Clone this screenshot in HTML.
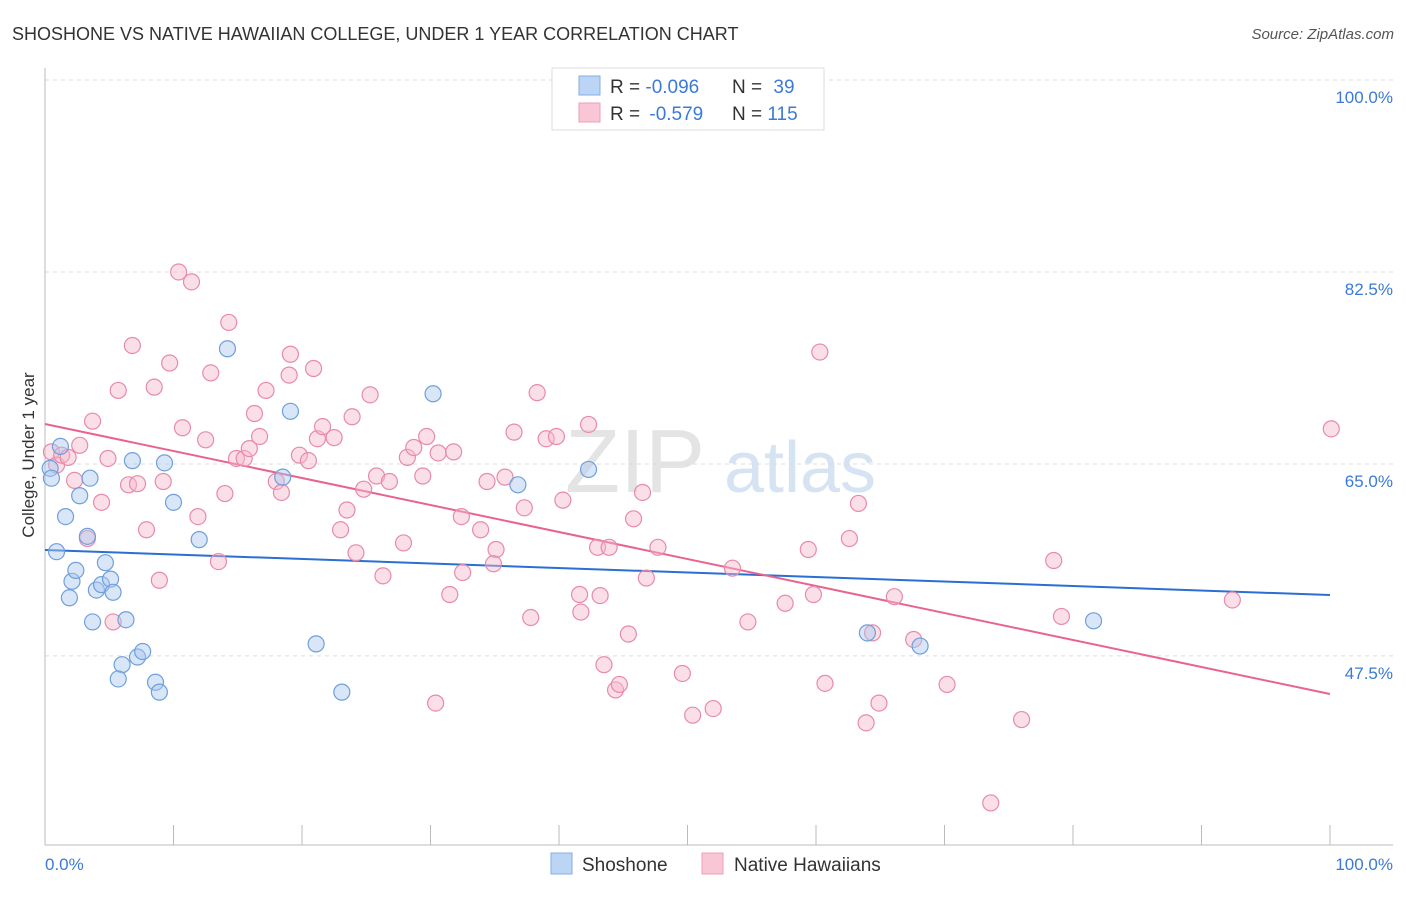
<!DOCTYPE html>
<html><head><meta charset="utf-8"><style>
body{margin:0;background:#fff;font-family:"Liberation Sans",sans-serif;}
svg text{font-family:"Liberation Sans",sans-serif;}
</style></head><body>
<svg id="chart" width="1406" height="892">
<text x="12" y="40" font-size="18" fill="#333">SHOSHONE VS NATIVE HAWAIIAN COLLEGE, UNDER 1 YEAR CORRELATION CHART</text>
<text x="1394" y="39" font-size="15" fill="#555" font-style="italic" text-anchor="end">Source: ZipAtlas.com</text>
<g><text x="635" y="492" font-size="90" fill="#e4e4e4" font-family="Liberation Serif" text-anchor="middle">ZIP</text><text x="800" y="492" font-size="72" fill="#d6e3f3" text-anchor="middle">atlas</text></g>
<g id="grid"></g>
<g id="axes"></g>
<g id="lines"></g>
<g id="pts"></g>
<text transform="translate(34,455) rotate(-90)" font-size="17" fill="#333" text-anchor="middle">College, Under 1 year</text>
<text x="45" y="870" font-size="17" fill="#3b7ad8">0.0%</text>
<text x="1393" y="870" font-size="17" fill="#3b7ad8" text-anchor="end">100.0%</text>
<g>
<rect x="552" y="68" width="272" height="62" fill="#fff" stroke="#ddd"/>
<rect x="579" y="76" width="21" height="19" fill="#bcd5f5" stroke="#80aee6"/>
<rect x="579" y="103" width="21" height="19" fill="#f9c6d5" stroke="#ee9fb8"/>
<text x="610" y="93" font-size="19" fill="#333">R = <tspan fill="#3b7ad8">-0.096</tspan></text>
<text x="732" y="93" font-size="19" fill="#333">N = <tspan fill="#3b7ad8" dx="6">39</tspan></text>
<text x="610" y="120" font-size="19" fill="#333">R = <tspan fill="#3b7ad8" dx="4">-0.579</tspan></text>
<text x="732" y="120" font-size="19" fill="#333">N = <tspan fill="#3b7ad8">115</tspan></text>
</g>
<g>
<rect x="551" y="853" width="21" height="21" fill="#bcd5f5" stroke="#80aee6"/>
<text x="582" y="871" font-size="19" fill="#333">Shoshone</text>
<rect x="702" y="853" width="21" height="21" fill="#f9c6d5" stroke="#ee9fb8"/>
<text x="734" y="871" font-size="19" fill="#333">Native Hawaiians</text>
</g>
</svg>
<script>
const yTicks=[100,82.5,65,47.5];
const yTickLabels=["100.0%","82.5%","65.0%","47.5%"];
const xTicks=[0,10,20,30,40,50,60,70,80,90,100];
const shoX=[0.4,0.5,1.2,0.9,1.6,2.1,2.4,1.9,2.7,3.5,3.3,3.7,4.0,4.4,4.7,5.1,5.3,6.3,6.8,9.3,10.0,12.0,6.0,5.7,7.2,7.6,8.6,8.9,14.2,19.1,18.5,21.1,23.1,30.2,36.8,42.3,64.0,68.1,81.6];
const shoY=[64.6,63.7,66.6,57.0,60.2,54.3,55.3,52.8,62.1,63.7,58.4,50.6,53.5,54.0,56.0,54.5,53.3,50.8,65.3,65.1,61.5,58.1,46.7,45.4,47.4,47.9,45.1,44.2,75.5,69.8,63.8,48.6,44.2,71.4,63.1,64.5,49.6,48.4,50.7];
const nhX=[0.5,0.9,1.3,1.8,2.7,3.7,2.3,3.3,4.4,4.9,5.3,5.7,6.5,7.2,6.8,7.9,8.5,8.9,9.2,9.7,10.4,11.4,10.7,12.5,12.9,11.9,14.0,13.5,14.3,14.9,15.5,15.9,16.3,16.7,17.2,18.0,18.4,19.0,19.1,19.8,20.5,20.9,21.2,21.6,22.5,23.0,23.5,23.9,24.2,24.8,25.3,25.8,26.3,26.8,27.9,28.2,28.7,29.7,29.4,30.6,31.8,30.4,31.5,32.4,32.5,33.9,34.4,35.1,34.9,35.8,36.5,37.3,37.8,38.3,39.0,39.8,40.3,41.6,41.7,42.3,43.0,43.2,43.9,43.5,44.4,44.7,45.8,45.4,46.8,46.5,47.7,49.6,50.4,52.0,53.5,54.7,57.6,59.4,59.8,60.3,60.7,62.6,63.3,63.9,64.4,64.9,66.1,67.6,70.2,73.6,76.0,78.5,79.1,92.4,100.1];
const nhY=[66.1,64.9,65.8,65.6,66.7,68.9,63.5,58.2,61.5,65.5,50.6,71.7,63.1,63.2,75.8,59.0,72.0,54.4,63.4,74.2,82.5,81.6,68.3,67.2,73.3,60.2,62.3,56.1,77.9,65.5,65.5,66.4,69.6,67.5,71.7,63.4,62.4,73.1,75.0,65.8,65.3,73.7,67.3,68.4,67.4,59.0,60.8,69.3,56.9,62.7,71.3,63.9,54.8,63.4,57.8,65.6,66.5,67.5,63.9,66.0,66.1,43.2,53.1,60.2,55.1,59.0,63.4,57.2,55.9,63.8,67.9,61.0,51.0,71.5,67.3,67.5,61.7,53.1,51.5,68.6,57.4,53.0,57.4,46.7,44.4,44.9,60.0,49.5,54.6,62.4,57.4,45.9,42.1,42.7,55.5,50.6,52.3,57.2,53.1,75.2,45.0,58.2,61.4,41.4,49.6,43.2,52.9,49.0,44.9,34.1,41.7,56.2,51.1,52.6,68.2];
const shoTrend=[57.16,53.05];
const nhTrend=[68.64,44.03];
const NS="http://www.w3.org/2000/svg";
const X=v=>45+v*12.85;
const Y=v=>80+(100-v)*10.97;
function mk(tag,attrs,parent){const e=document.createElementNS(NS,tag);for(const k in attrs)e.setAttribute(k,attrs[k]);document.getElementById(parent).appendChild(e);return e;}
yTicks.forEach((t,i)=>{
 const g=mk('line',{x1:45,x2:1393,y1:Y(t),y2:Y(t),stroke:'#ddd','stroke-dasharray':'4,4'},'grid');
 
 
 const l=mk('text',{x:1393,y:Y(t)+23,'font-size':17,fill:'#3b7ad8','text-anchor':'end'},'grid');
 l.textContent=yTickLabels[i];
 
 
});
const ax=mk('line',{x1:45,x2:1393,y1:845,y2:845,stroke:'#bbb'},'axes');


const ay=mk('line',{x1:45,x2:45,y1:68,y2:845,stroke:'#bbb'},'axes');


xTicks.forEach(t=>{
 const k=mk('line',{x1:X(t),x2:X(t),y1:825,y2:845,stroke:'#bbb'},'axes');
 
 
});
function trend(tr,color,name){
 const l=mk('line',{x1:X(0),x2:X(100),y1:Y(tr[0]),y2:Y(tr[1]),stroke:color,'stroke-width':2},'lines');
 
 
}
function pts(xs,ys,fill,stroke,name){
 xs.forEach((x,i)=>{
  const c=mk('circle',{cx:X(x),cy:Y(ys[i]),r:8,fill:fill,'fill-opacity':0.45,stroke:stroke,'stroke-width':1.2},'pts');
  
  
 });
}
pts(nhX,nhY,'#f6b9cc','#e88aa8','native-hawaiian-point');
pts(shoX,shoY,'#a9c8ef','#6f9fdc','shoshone-point');
trend(shoTrend,'#2a6fd1','shoshone-trend-line');
trend(nhTrend,'#e8648f','native-hawaiian-trend-line');
</script>
</body></html>
